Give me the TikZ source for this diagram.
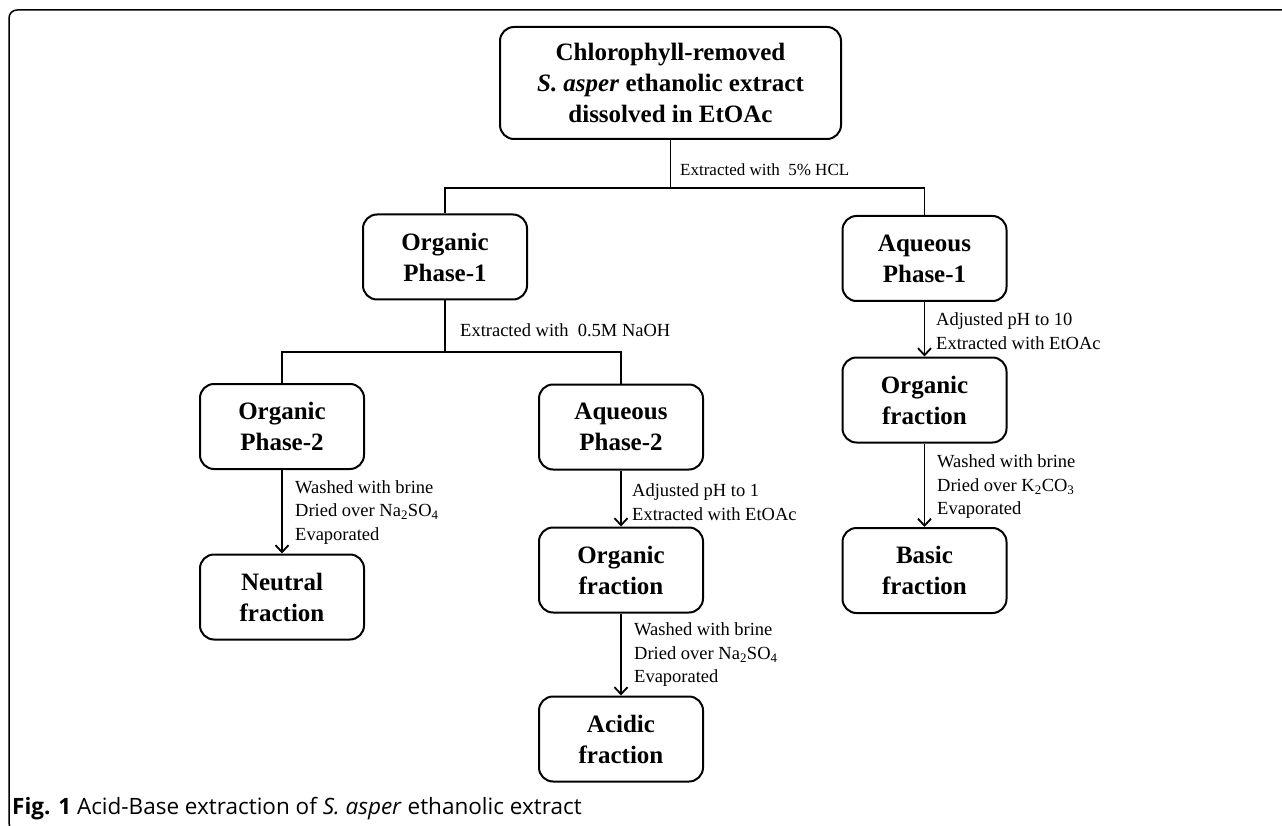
\documentclass[tikz,border=0pt]{standalone}
\usepackage{fontspec}
\setmainfont{Liberation Serif}
\newfontfamily\capfont{Open Sans}
\usetikzlibrary{arrows.meta}
\begin{document}
\begin{tikzpicture}[x=1pt,y=-1pt,
  box/.style={draw, line width=2pt, rounded corners=14pt, minimum width=164pt, minimum height=85pt, inner sep=0pt, align=center, font=\fontsize{25}{31}\selectfont\bfseries},
  lbl/.style={anchor=west, align=left, inner sep=0pt, font=\fontsize{18.5}{23.5}\selectfont},
  link/.style={line width=1.8pt},
  arr/.style={line width=1.8pt, -{Straight Barb[length=7pt,width=13pt]}}]
\path[use as bounding box] (0,0) rectangle (1282,826);
\begin{scope}
\clip (0,0) rectangle (1282,826);
\draw[line width=1.5pt, rounded corners=8pt] (9,10) rectangle (1320,831);
\end{scope}

\node[box, minimum width=341pt, minimum height=112pt] (top) at (670.5,83) {Chlorophyll-removed\\\textit{S. asper} ethanolic extract\\dissolved in EtOAc};
\node[box] (op1) at (445,257) {Organic\\Phase-1};
\node[box] (ap1) at (924.5,258.5) {Aqueous\\Phase-1};
\node[box] (op2) at (282,426.5) {Organic\\Phase-2};
\node[box] (ap2) at (621,427) {Aqueous\\Phase-2};
\node[box] (neu) at (282,597) {Neutral\\fraction};
\node[box] (of2) at (621,570) {Organic\\fraction};
\node[box] (acd) at (621,739) {Acidic\\fraction};
\node[box] (of1) at (924.5,400) {Organic\\fraction};
\node[box] (bas) at (924.5,570.5) {Basic\\fraction};

\coordinate (j1) at (670.5,188);
\draw[link] (top.south) -- (j1);
\draw[link] (op1.north) |- (j1) -| (ap1.north);
\coordinate (j2) at (445,352);
\draw[link] (op1.south) -- (j2);
\draw[link] (op2.north) |- (j2) -| (ap2.north);

\draw[arr] (ap1.south) -- (of1.north);
\draw[arr] (of1.south) -- (bas.north);
\draw[arr] (op2.south) -- (neu.north);
\draw[arr] (ap2.south) -- (of2.north);
\draw[arr] (of2.south) -- (acd.north);

\node[lbl, font=\fontsize{17}{21}\selectfont] (l0) at (680,170) {Extracted with\ \ 5\% HCL};
\node[lbl] (l1) at (460,330) {Extracted with\ \ 0.5M NaOH};
\node[lbl] (l2) at (936,331) {Adjusted pH to 10\\Extracted with EtOAc};
\node[lbl] (l3) at (937,487) {Washed with brine\\Dried over K\textsubscript{2}CO\textsubscript{3}\\Evaporated};
\node[lbl] (l4) at (295,512.5) {Washed with brine\\Dried over Na\textsubscript{2}SO\textsubscript{4}\\Evaporated};
\node[lbl] (l5) at (632,502) {Adjusted pH to 1\\Extracted with EtOAc};
\node[lbl] (l6) at (634,655) {Washed with brine\\Dried over Na\textsubscript{2}SO\textsubscript{4}\\Evaporated};

\node[anchor=west, inner sep=0pt, font=\capfont\fontsize{22.5}{26}\selectfont] (cap) at (12,809) {\textbf{Fig. 1} Acid-Base extraction of \textit{S. asper} ethanolic extract};
\end{tikzpicture}
\end{document}
